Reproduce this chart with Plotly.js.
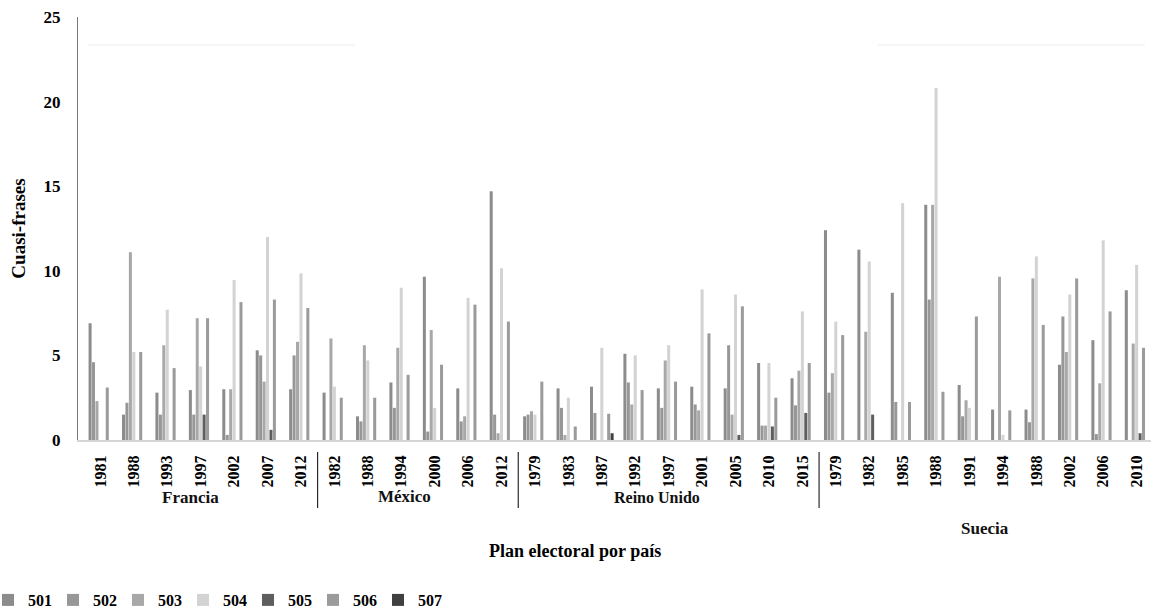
<!DOCTYPE html>
<html>
<head>
<meta charset="utf-8">
<script src="https://cdn.plot.ly/plotly-3.0.1.min.js"></script>
<style>html,body{margin:0;padding:0;background:#fff;}#chart{width:1151px;height:611px;}</style>
</head>
<body>
<div id="chart"></div>
<script>
// Elections (tick labels), grouped by country
const years = ["1981","1988","1993","1997","2002","2007","2012",
               "1982","1988","1994","2000","2006","2012",
               "1979","1983","1987","1992","1997","2001","2005","2010","2015",
               "1979","1982","1985","1988","1991","1994","1988","2002","2006","2010"];
const countries = ["Francia","México","Reino Unido","Suecia"];
const countrySizes = [7, 6, 9, 10];

const seriesNames = ["501","502","503","504","505","506","507"];
const s501 = [6.9,1.5,2.8,2.95,3.0,5.3,3.0,  2.8,1.4,3.4,9.65,3.05,14.7,  1.4,3.05,3.15,5.1,3.05,3.15,3.05,4.55,3.65,  12.4,11.25,8.7,13.9,3.25,1.8,1.8,4.45,5.9,8.85];
const s502 = [4.6,2.2,1.5,1.5,0.3,5.0,5.0,  0,1.1,1.9,0.5,1.1,1.5,  1.5,1.9,1.6,3.4,1.9,2.1,5.6,0.85,2.05,  2.8,0,2.25,8.3,1.4,0,1.05,7.3,0.35,0];
const s503 = [2.3,11.1,5.6,7.2,3.0,3.45,5.8,  6.0,5.6,5.45,6.5,1.4,0.4,  1.7,0.3,0,2.1,4.7,1.75,1.5,0.85,4.1,  3.95,6.4,0,13.9,2.35,9.65,9.55,5.2,3.35,5.7];
const s504 = [0,5.2,7.7,4.35,9.45,12.0,9.85,  3.15,4.7,9.0,1.9,8.4,10.15,  1.5,2.5,5.45,5.0,5.6,8.9,8.6,4.55,7.6,  7.0,10.55,14.0,20.8,1.9,0.3,10.85,8.6,11.8,10.35];
const s505 = [0,0,0,1.5,0,0.6,0,  0,0,0,0,0,0,  0,0,0,0,0,0,0.3,0.8,1.6,  0,1.5,0,0,0,0,0,0,0,0.4];
const s506 = [3.1,5.2,4.25,7.2,8.15,8.3,7.8,  2.5,2.5,3.85,4.45,8.0,7.0,  3.45,0.8,1.55,2.95,3.45,6.3,7.9,2.5,4.55,  6.2,0,2.25,2.85,7.3,1.75,6.8,9.55,7.6,5.45];
const s507 = [0,0,0,0,0,0,0,  0,0,0,0,0,0,  0,0,0.4,0,0,0,0,0,0,  0,0,0,0,0,0,0,0,0,0];
const seriesValues = [s501,s502,s503,s504,s505,s506,s507];
const seriesColors = ["#8c8c8c","#979797","#a8a8a8","#d3d3d3","#5e5e5e","#9b9b9b","#404040"];

const xs = years.map((_, i) => i);
const serif = "Liberation Serif, Times New Roman, serif";

const traces = seriesNames.map((n, k) => ({
  type: "bar", name: n, x: xs, y: seriesValues[k],
  marker: {color: seriesColors[k]}, hoverinfo: "x+y+name"
}));

// layout helpers (pixel -> paper)
const L = 78, PW = 1073, T = 17, PH = 423;
const px = p => (p - L) / PW;
const py = p => (T + PH - p) / PH;

// separators between countries
const shapes = [];
let acc = 0;
for (let c = 0; c < countrySizes.length - 1; c++) {
  acc += countrySizes[c];
  shapes.push({type: "line", xref: "x", yref: "paper", x0: acc - 0.5, x1: acc - 0.5,
               y0: py(452), y1: py(508), line: {color: "#000", width: 1}});
}
// faint header bands of the original
shapes.push({type:"line", xref:"paper", yref:"paper", x0:px(88), x1:px(355), y0:py(45), y1:py(45), line:{color:"#f6f6f6", width:2}});
shapes.push({type:"line", xref:"paper", yref:"paper", x0:px(878), x1:px(1145), y0:py(45), y1:py(45), line:{color:"#f6f6f6", width:2}});

const countryPos = [[190,497,17],[405,496,17],[657,497,16],[985,528,17]];
const annotations = countries.map((c, i) => ({
  text: "<b>" + c + "</b>", xref: "paper", yref: "paper",
  x: px(countryPos[i][0]), y: py(countryPos[i][1]), showarrow: false,
  xanchor: "center", yanchor: "middle",
  font: {family: serif, size: countryPos[i][2], color: "#111"}
}));
annotations.push({text: "<b>Plan electoral por país</b>", xref: "paper", yref: "paper",
  x: px(575), y: py(551), showarrow: false, xanchor: "center", yanchor: "middle",
  font: {family: serif, size: 18, color: "#000"}});

const layout = {
  width: 1151, height: 611,
  margin: {l: L, r: 0, t: T, b: 611 - T - PH, autoexpand: false},
  paper_bgcolor: "#fff", plot_bgcolor: "#fff",
  barmode: "group", bargap: 0.28, bargroupgap: 0.12,
  font: {family: serif, color: "#000"},
  xaxis: {
    range: [-0.67, 31.43], tickmode: "array", tickvals: xs, ticktext: years.map(y => "<b>" + y + "</b>"),
    tickangle: -90, tickfont: {family: serif, size: 16, color: "#000"},
    showgrid: false, zeroline: false, showline: true, linecolor: "#d6d6d6", linewidth: 2,
    ticks: "", ticklabelstandoff: 7
  },
  yaxis: {
    range: [0, 25], tickvals: [0,5,10,15,20,25], ticktext: ["<b>0</b>","<b>5</b>","<b>10</b>","<b>15</b>","<b>20</b>","<b>25</b>"],
    tickfont: {family: serif, size: 17, color: "#000"},
    showgrid: false, zeroline: false, showline: true, linecolor: "#7a7a7a", linewidth: 1,
    ticks: "", ticklabelstandoff: 13,
    title: {text: "<b>Cuasi-frases</b>", font: {family: serif, size: 19, color: "#000"}, standoff: 12}
  },
  legend: {
    orientation: "h", x: px(-12), xanchor: "left", y: py(600), yanchor: "middle",
    font: {family: serif, size: 16, color: "#000", weight: "bold"},
    entrywidth: 20, entrywidthmode: "pixels", itemwidth: 30,
    bgcolor: "rgba(0,0,0,0)", traceorder: "normal"
  },
  shapes: shapes,
  annotations: annotations,
  showlegend: true
};

Plotly.newPlot("chart", traces, layout, {displayModeBar: false, staticPlot: true});
</script>
</body>
</html>
